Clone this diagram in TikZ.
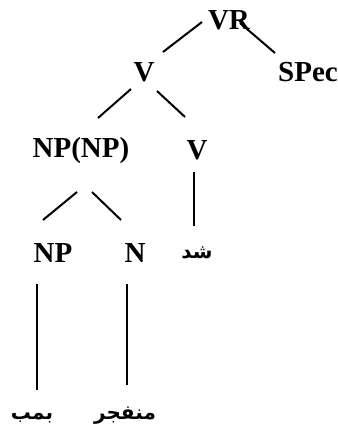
\documentclass[tikz,border=0pt]{standalone}
\usepackage{fontspec}
\setmainfont{Liberation Serif}
\newfontfamily\arabicfont[Script=Arabic]{DejaVu Sans}
\TeXXeTstate=1
\usetikzlibrary{positioning}
\tikzstyle{cat}=[inner sep=0pt,font=\fontsize{14.5}{16}\selectfont\bfseries]
\tikzstyle{word}=[inner sep=0pt,font=\fontsize{10}{12}\selectfont\arabicfont\bfseries]
\tikzstyle{branch}=[line width=1pt]
\newcommand{\rtl}[1]{\beginR #1\endR}

\begin{document}
\begin{tikzpicture}[x=0.5pt,y=-0.5pt]
    \useasboundingbox (0,0) rectangle (338,435);
    \node[cat] (vr) at (229,20) {VR};
    \node[cat] (v1) at (144,72) {V};
    \node[cat] (spec) at (308,72) {SPec};
    \node[cat] (npnp) at (81,151) {NP(NP)};
    \node[cat] (v2) at (197,150) {V};
    \node[cat] (np) at (53,253) {NP};
    \node[cat] (n) at (135,253) {N};
    \node[word] (shod) at (197,253) {\rtl{شد}};
    \node[word] (bomb) at (32,418) {\rtl{بمب}};
    \node[word] (monfajer) at (125,416) {\rtl{منفجر}};
    \draw[branch] ([shift={(19,-20)}]v1.center) -- ([shift={(-27,2)}]vr.center);
    \draw[branch] ([shift={(11,3)}]vr.center) -- ([shift={(-33,-19)}]spec.center);
    \draw[branch] ([shift={(17,-33)}]npnp.center) -- ([shift={(-13,17)}]v1.center);
    \draw[branch] ([shift={(13,19)}]v1.center) -- ([shift={(-12,-33)}]v2.center);
    \draw[branch] ([shift={(-10,-33)}]np.center) -- ([shift={(-4,41)}]npnp.center);
    \draw[branch] ([shift={(11,41)}]npnp.center) -- ([shift={(-14,-33)}]n.center);
    \draw[branch] ([shift={(-3,22)}]v2.center) -- ([shift={(-3,-27)}]shod.center);
    \draw[branch] ([shift={(-16,31)}]np.center) -- ([shift={(5,-28)}]bomb.center);
    \draw[branch] ([shift={(-8,31)}]n.center) -- ([shift={(2,-31)}]monfajer.center);
\end{tikzpicture}
\end{document}
